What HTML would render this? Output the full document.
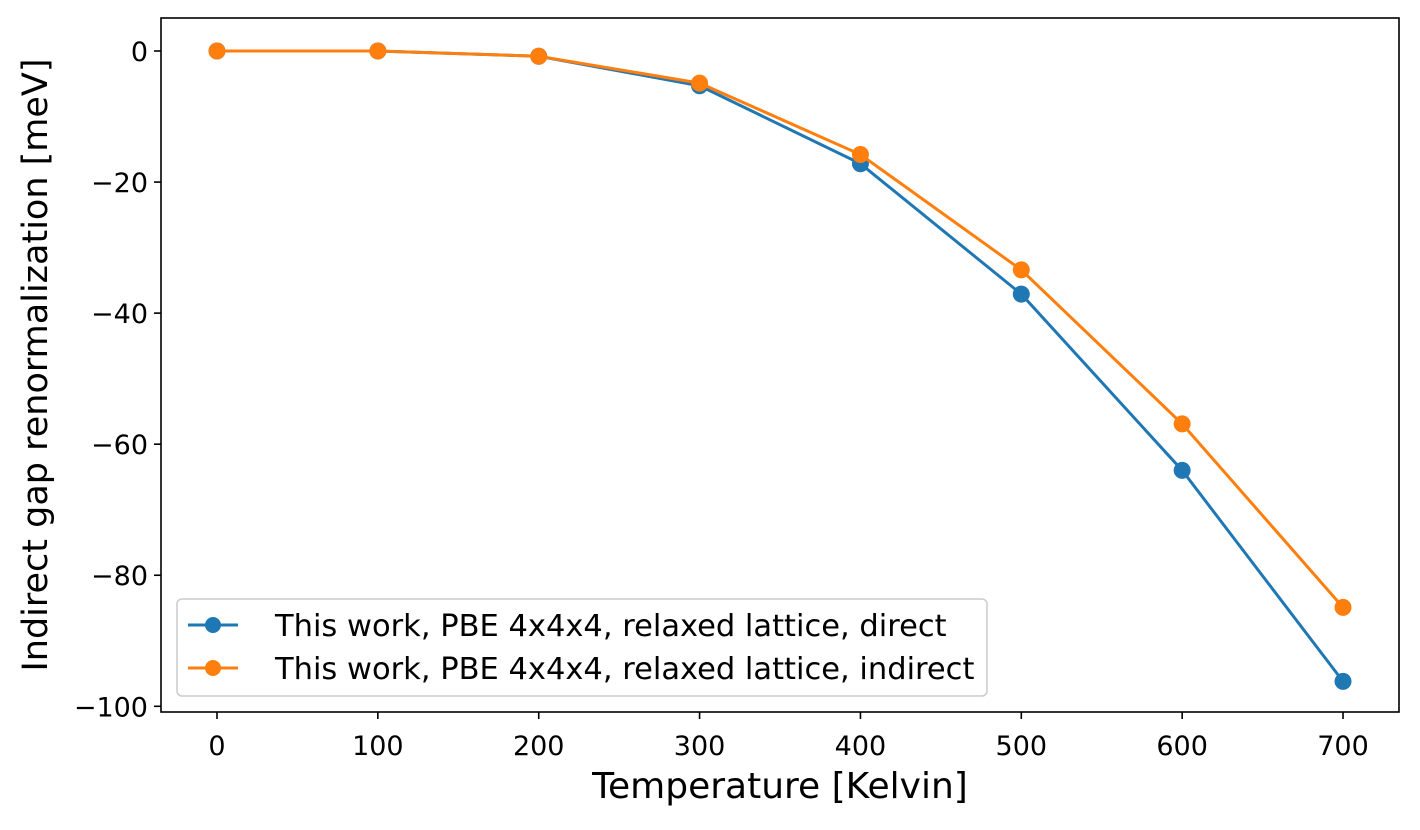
<!DOCTYPE html>
<html><head><meta charset="utf-8"><style>
body{margin:0;background:#fff;}
svg text{font-family:"DejaVu Sans","Liberation Sans",sans-serif;fill:#000;}
</style></head><body>
<svg id="chart" width="1420" height="825" xmlns="http://www.w3.org/2000/svg">
<rect x="161" y="18" width="1238" height="694" fill="none" stroke="#000" stroke-width="1.6"/>
<g id="xt"></g>
<g id="yt"></g>
<g id="series"></g>
<text x="780" y="798" font-size="36" text-anchor="middle">Temperature [Kelvin]</text>
<text transform="translate(47,365) rotate(-90)" font-size="35" text-anchor="middle">Indirect gap renormalization [meV]</text>
<g>
<rect x="177" y="599" width="810" height="97" rx="5" fill="#fff" fill-opacity="0.8" stroke="#ccc" stroke-width="1.5"/>
<line x1="188" y1="625" x2="238" y2="625" stroke="#1f77b4" stroke-width="3"/>
<circle cx="213" cy="625" r="8" fill="#1f77b4"/>
<text x="275" y="636" font-size="30.5">This work, PBE 4x4x4, relaxed lattice, direct</text>
<line x1="188" y1="668" x2="238" y2="668" stroke="#ff7f0e" stroke-width="3"/>
<circle cx="213" cy="668" r="8" fill="#ff7f0e"/>
<text x="275" y="679" font-size="30.5">This work, PBE 4x4x4, relaxed lattice, indirect</text>
</g>
</svg>
<script>
const temps=[0,100,200,300,400,500,600,700];
const direct=[0,0,-0.8,-5.3,-17.2,-37.1,-64,-96.2];
const indirect=[0,0,-0.8,-4.9,-15.8,-33.4,-56.9,-84.9];
const xTicks=[0,100,200,300,400,500,600,700];
const yTicks=[0,-20,-40,-60,-80,-100];
const NS="http://www.w3.org/2000/svg";
function xs(v){return 217+v*1.6086;}
function ys(v){return 51-v*6.553;}
function mk(tag,a,p){const e=document.createElementNS(NS,tag);for(const k in a)e.setAttribute(k,a[k]);p.appendChild(e);return e;}
const xt=document.getElementById('xt'),yt=document.getElementById('yt'),sg=document.getElementById('series');
xTicks.forEach(t=>{const x=xs(t);
const l=mk('line',{x1:x,x2:x,y1:712,y2:719,stroke:'#000','stroke-width':1.6},xt);


const tx=mk('text',{x:x,y:755,'font-size':27,'text-anchor':'middle'},xt);tx.textContent=t;

});
yTicks.forEach(t=>{const y=ys(t);
const l=mk('line',{x1:154,x2:161,y1:y,y2:y,stroke:'#000','stroke-width':1.6},yt);


const tx=mk('text',{x:148,y:y+10,'font-size':27,'text-anchor':'end'},yt);tx.textContent=t<0?'\u2212'+(-t):t;

});
function draw(vals,color,name){
const pts=temps.map((t,i)=>xs(t)+','+ys(vals[i])).join(' ');
const pl=mk('polyline',{points:pts,fill:'none',stroke:color,'stroke-width':3},sg);


temps.forEach((t,i)=>{const c=mk('circle',{cx:xs(t),cy:ys(vals[i]),r:8.5,fill:color},sg);

});}
draw(direct,'#1f77b4','direct');
draw(indirect,'#ff7f0e','indirect');
</script>
</body></html>
